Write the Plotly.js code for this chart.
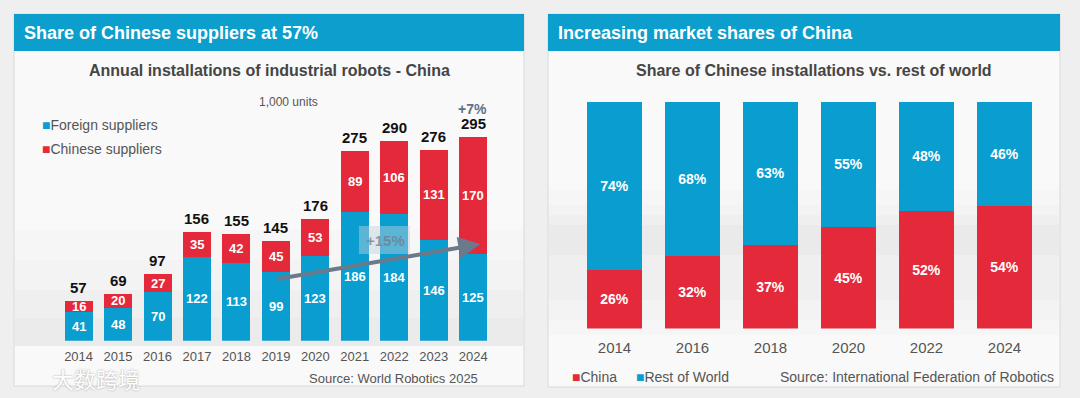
<!DOCTYPE html>
<html>
<head>
<meta charset="utf-8">
<script src="https://cdn.plot.ly/plotly-3.0.1.min.js"></script>
<style>html,body{margin:0;padding:0;background:#efefef;}#chart{width:1080px;height:398px;}</style>
</head>
<body>
<div id="chart"></div>
<script>
// ---- data: left chart (1,000 units) ----
const years = ['2014','2015','2016','2017','2018','2019','2020','2021','2022','2023','2024'];
const foreignSuppliers = [41, 48, 70, 122, 113, 99, 123, 186, 184, 146, 125];
const chineseSuppliers = [16, 20, 27, 35, 42, 45, 53, 89, 106, 131, 170];
const totals = [57, 69, 97, 156, 155, 145, 176, 275, 290, 276, 295];
// ---- data: right chart (share, %) ----
const shareYears = ['2014','2016','2018','2020','2022','2024'];
const chinaShare = [26, 32, 37, 45, 52, 54];
const restShare = [74, 68, 63, 55, 48, 46];

const W = 1080, H = 398;
const X = px => px / W;
const Y = py => 1 - py / H;
const BLUE = '#0a9dcf', RED = '#e42a3a', HEAD = '#0c9fcd';
const FONT = 'Liberation Sans, Arial, sans-serif';

const traces = [
  {type:'bar', x: years, y: foreignSuppliers, xaxis:'x', yaxis:'y', marker:{color:BLUE}, hoverinfo:'skip', showlegend:false},
  {type:'bar', x: years, y: chineseSuppliers, xaxis:'x', yaxis:'y', marker:{color:RED}, hoverinfo:'skip', showlegend:false},
  {type:'bar', x: shareYears, y: chinaShare, xaxis:'x2', yaxis:'y2', marker:{color:RED},
   text: chinaShare.map(v => v + '%'), textposition:'inside', insidetextanchor:'middle', textangle:0,
   textfont:{color:'#fff', size:14, family:FONT, weight:'bold'}, hoverinfo:'skip', showlegend:false},
  {type:'bar', x: shareYears, y: restShare, xaxis:'x2', yaxis:'y2', marker:{color:BLUE},
   text: restShare.map(v => v + '%'), textposition:'inside', insidetextanchor:'middle', textangle:0,
   textfont:{color:'#fff', size:14, family:FONT, weight:'bold'}, hoverinfo:'skip', showlegend:false}
];

const band = (x0, x1, y0, y1, a) => ({type:'rect', xref:'paper', yref:'paper', x0:X(x0), x1:X(x1), y0:Y(y1), y1:Y(y0),
  fillcolor:'rgba(0,0,0,' + a + ')', line:{width:0}, layer:'below'});

const shapes = [
  // left panel
  {type:'rect', xref:'paper', yref:'paper', x0:X(14), x1:X(524), y0:Y(386), y1:Y(14), fillcolor:'#f9f9f9', line:{color:'#d8d8d8', width:1}, layer:'below'},
  band(15, 523, 230, 346, 0.012), band(15, 523, 260, 346, 0.012), band(15, 523, 290, 346, 0.014), band(15, 523, 318, 346, 0.016),
  {type:'rect', xref:'paper', yref:'paper', x0:X(14), x1:X(524), y0:Y(51), y1:Y(14), fillcolor:HEAD, line:{width:0}, layer:'below'},
  // right panel
  {type:'rect', xref:'paper', yref:'paper', x0:X(548), x1:X(1060), y0:Y(387), y1:Y(14), fillcolor:'#f9f9f9', line:{color:'#d8d8d8', width:1}, layer:'below'},
  band(549, 1059, 190, 335, 0.012), band(549, 1059, 205, 320, 0.012), band(549, 1059, 215, 300, 0.014), band(549, 1059, 225, 255, 0.02),
  {type:'rect', xref:'paper', yref:'paper', x0:X(548), x1:X(1060), y0:Y(51), y1:Y(14), fillcolor:HEAD, line:{width:0}, layer:'below'},
  // +15% box
  {type:'rect', xref:'paper', yref:'paper', x0:X(359), x1:X(410), y0:Y(254), y1:Y(226), fillcolor:'rgba(195,210,222,0.45)', line:{width:0}, layer:'above'}
];

const ann = [];
const txt = (text, px, py, size, color, opts) => Object.assign({
  xref:'paper', yref:'paper', x:X(px), y:Y(py), text, showarrow:false,
  xanchor:'left', yanchor:'middle', font:{family:FONT, size, color}}, opts || {});

ann.push(txt('Share of Chinese suppliers at 57%', 22, 33, 18, '#fff', {font:{family:FONT, size:18, color:'#fff', weight:'bold'}}));
ann.push(txt('Increasing market shares of China', 556, 33, 18, '#fff', {font:{family:FONT, size:18, color:'#fff', weight:'bold'}}));
ann.push(txt('Annual installations of industrial robots - China', 269, 71, 16, '#444', {xanchor:'center', font:{family:FONT, size:16, color:'#454545', weight:'bold'}}));
ann.push(txt('Share of Chinese installations vs. rest of world', 814, 71, 16, '#444', {xanchor:'center', font:{family:FONT, size:16, color:'#454545', weight:'bold'}}));
ann.push(txt('1,000 units', 288, 102, 12, '#555', {xanchor:'center'}));
ann.push(txt('+7%', 472, 109, 14, '#5f7088', {xanchor:'center', font:{family:FONT, size:14, color:'#5f7088', weight:'bold'}}));
ann.push(txt('<span style="color:' + BLUE + '">■</span>Foreign suppliers', 40, 125, 14, '#555'));
ann.push(txt('<span style="color:' + RED + '">■</span>Chinese suppliers', 40, 149, 14, '#555'));
ann.push(txt('Source: World Robotics 2025', 480, 378, 13, '#555', {xanchor:'right'}));
ann.push(txt('<span style="color:' + RED + '">■</span>China', 570, 377, 14, '#555'));
ann.push(txt('<span style="color:' + BLUE + '">■</span>Rest of World', 634, 377, 14, '#555'));
ann.push(txt('Source: International Federation of Robotics', 1056, 377, 14, '#555', {xanchor:'right'}));
ann.push(txt('大数跨境', 50, 378, 22, '#fff', {font:{family:'Noto Sans CJK SC', size:22, color:'#ffffff', shadow:'0 0 2px #9a9a9a'}}));

// segment labels (middle of each stacked segment) and totals above bars
years.forEach((yr, i) => {
  const f = foreignSuppliers[i], c = chineseSuppliers[i];
  ann.push({xref:'x', yref:'y', x:i, y:f / 2, text:String(f), showarrow:false, yanchor:'middle',
    font:{family:FONT, size:13, color:'#fff', weight:'bold'}});
  ann.push({xref:'x', yref:'y', x:i, y:f + c / 2, text:String(c), showarrow:false, yanchor:'middle',
    font:{family:FONT, size:13, color:'#fff', weight:'bold'}});
  ann.push({xref:'x', yref:'y', x:i, y:f + c, text:String(totals[i]), showarrow:false,
    yanchor:'bottom', yshift:3, font:{family:FONT, size:15, color:'#111', weight:'bold'}});
});

// trend arrow and +15% label
ann.push({xref:'x', yref:'y', axref:'x', ayref:'y', x:10.18, y:140, ax:5, ay:89, text:'', showarrow:true,
  arrowhead:2, arrowsize:1.1, arrowwidth:4, arrowcolor:'#6b7a8a'});
ann.push({xref:'x', yref:'y', x:7.78, y:145, text:'+15%', showarrow:false,
  font:{family:FONT, size:15, color:'rgba(110,125,140,0.75)', weight:'bold'}});

const layout = {
  width: W, height: H, margin:{l:0, r:0, t:0, b:0},
  paper_bgcolor:'#efefef', plot_bgcolor:'rgba(0,0,0,0)',
  barmode:'stack', bargap:0.29,
  showlegend:false,
  xaxis:{domain:[X(58.85), X(493.5)], type:'category', showgrid:false, zeroline:false, showline:false, ticks:'',
    ticklabelstandoff:6, tickfont:{family:FONT, size:13, color:'#555'}, fixedrange:true},
  yaxis:{domain:[Y(340.7), Y(100)], range:[0, 240.7/0.69], visible:false, fixedrange:true},
  xaxis2:{domain:[X(575.5), X(1043.5)], anchor:'y2', type:'category', showgrid:false, zeroline:false, showline:false, ticks:'',
    ticklabelstandoff:8, tickfont:{family:FONT, size:15, color:'#555'}, fixedrange:true},
  yaxis2:{domain:[Y(328.6), Y(101.7)], range:[0, 100], anchor:'x2', visible:false, fixedrange:true},
  shapes, annotations: ann
};

Plotly.newPlot('chart', traces, layout, {staticPlot:true, displayModeBar:false});
</script>
</body>
</html>
